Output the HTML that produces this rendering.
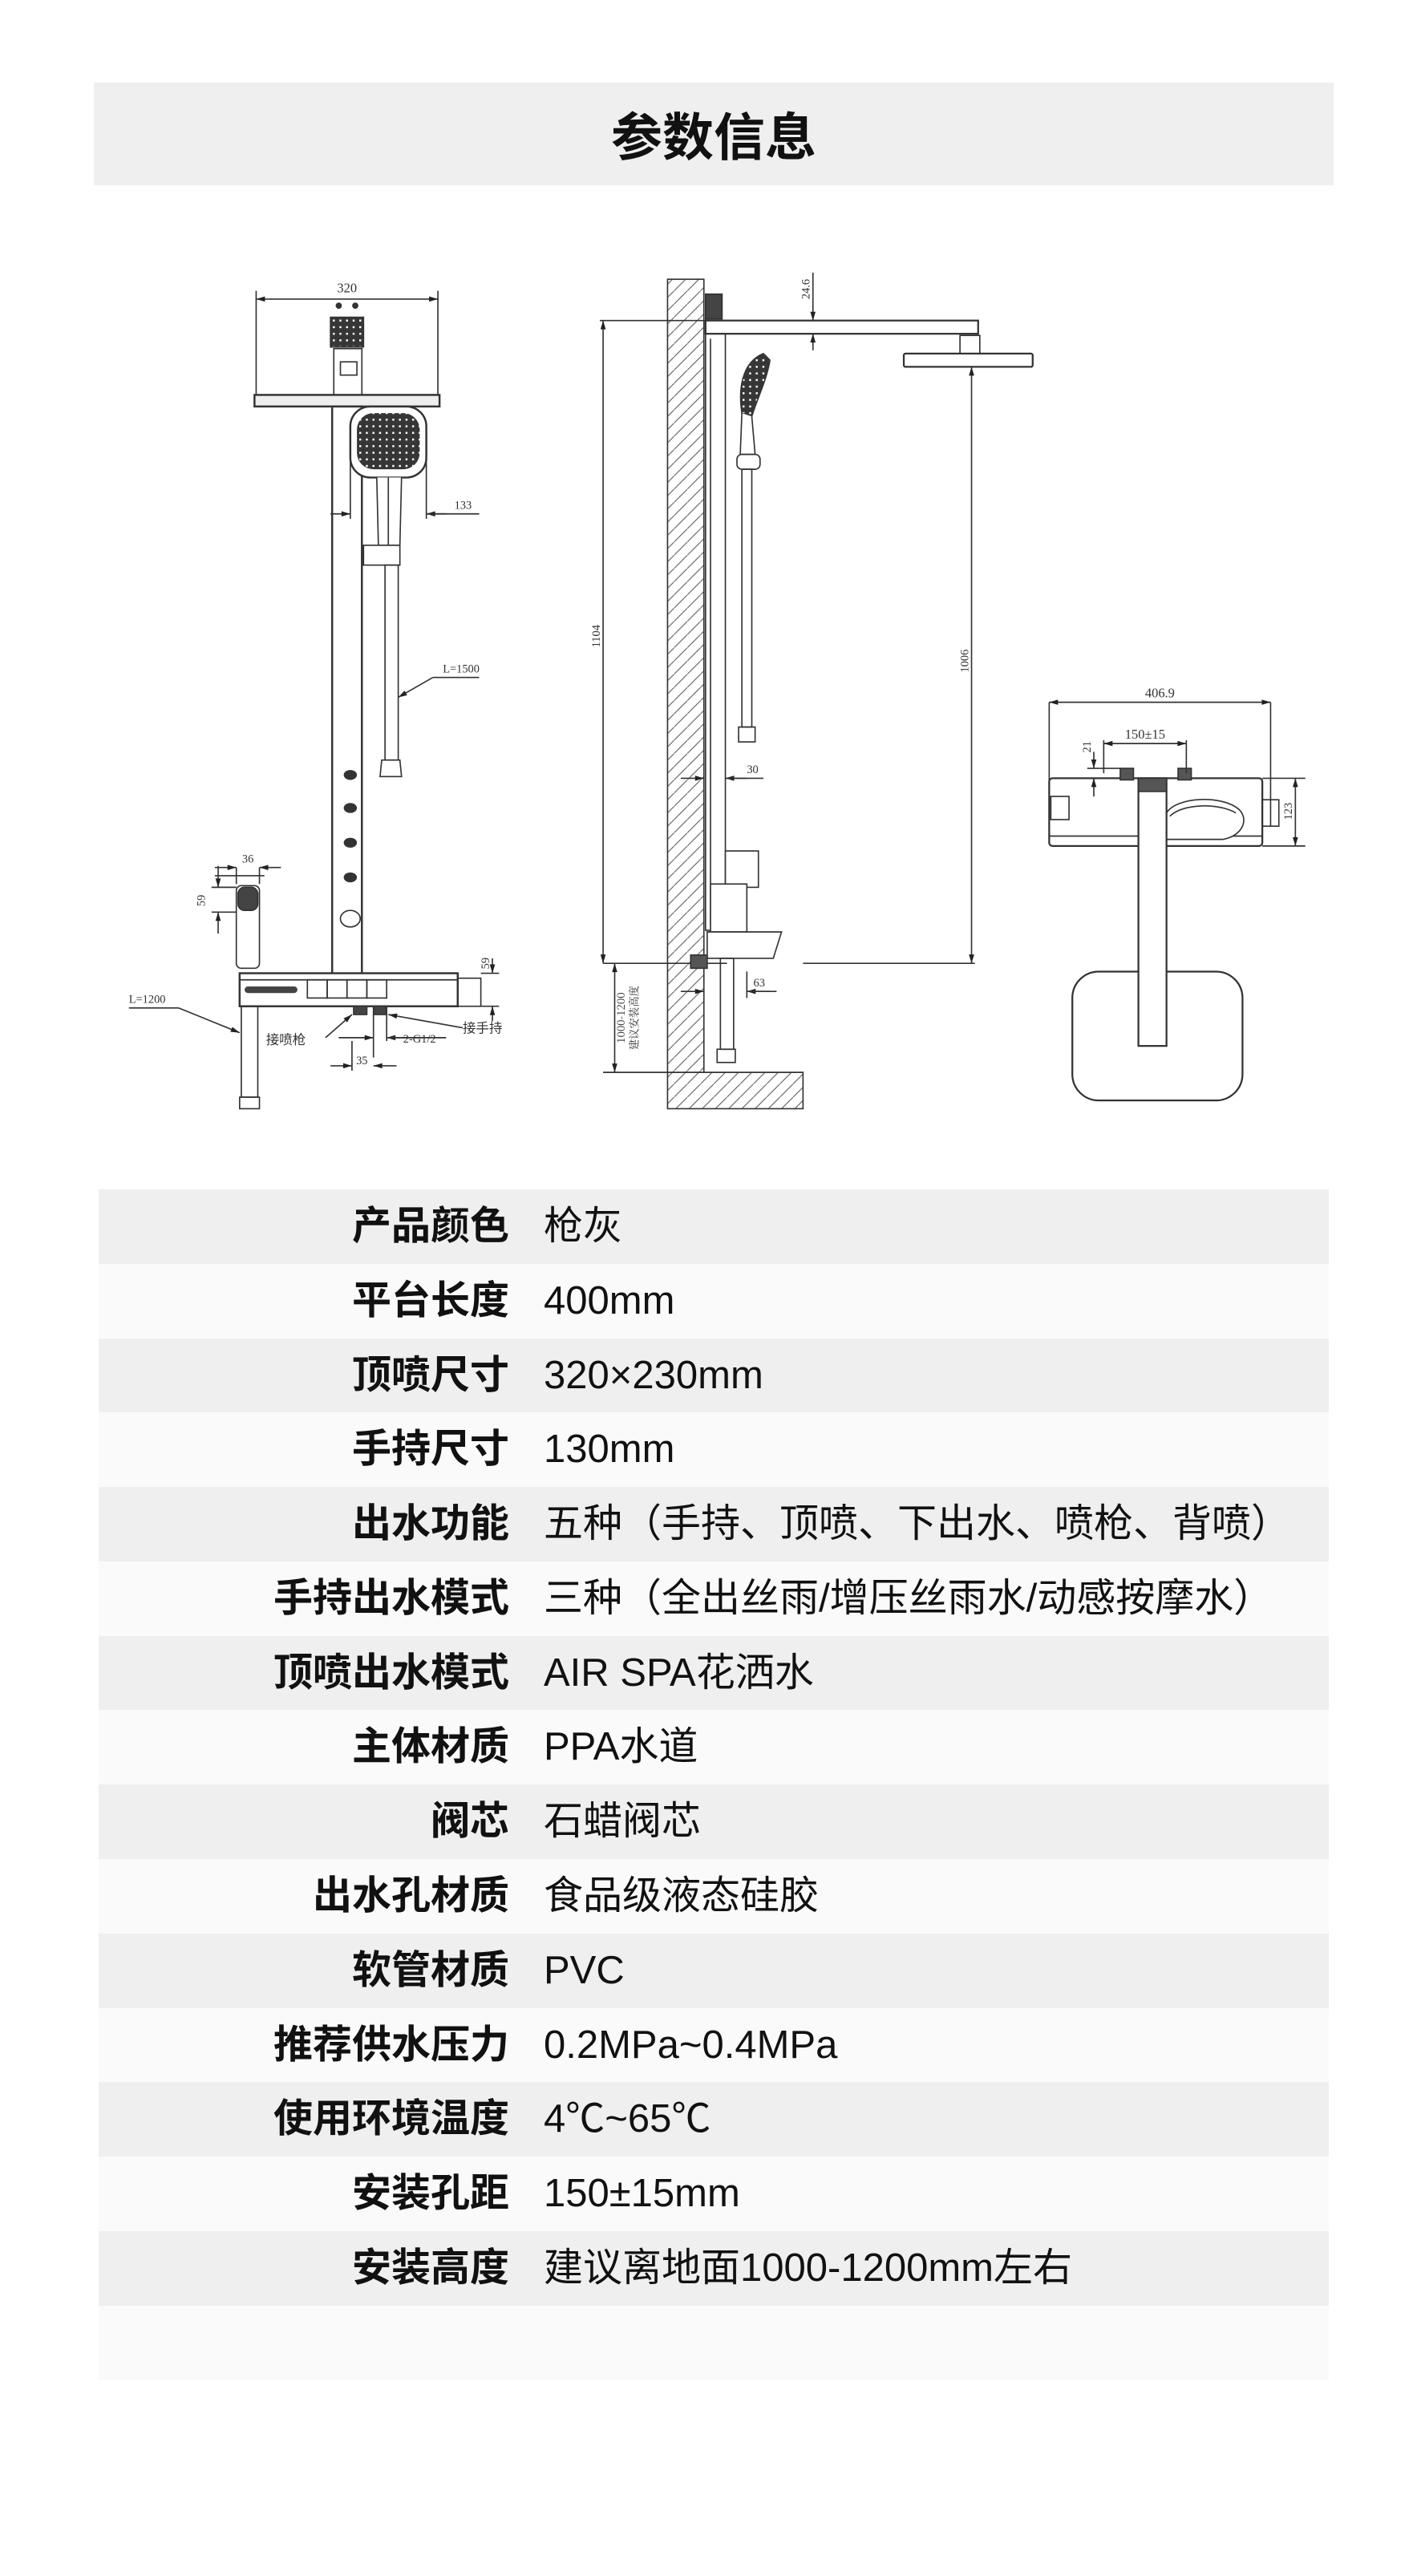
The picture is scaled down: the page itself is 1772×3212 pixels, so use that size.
<!DOCTYPE html>
<html><head><meta charset="utf-8">
<style>
*{margin:0;padding:0;box-sizing:border-box}
html,body{width:1772px;height:3212px;background:#fff;overflow:hidden;font-family:"Liberation Sans","Noto Sans CJK SC",sans-serif;color:#111}
.hdr{position:absolute;left:117px;top:103px;width:1546px;height:128px;background:#efefef;display:flex;align-items:center;justify-content:center;font-size:64px;font-weight:bold}
.row{position:absolute;left:123px;width:1534px;height:93px}
.row .l{position:absolute;right:1022px;top:0;height:93px;line-height:93px;font-size:49px;font-weight:bold;white-space:nowrap}
.row .v{position:absolute;left:555px;top:0;height:93px;line-height:93px;font-size:49px;white-space:nowrap}
svg{position:absolute;left:0;top:0}
</style></head><body>
<div class="hdr">参数信息</div>

<svg width="1772" height="3212" viewBox="0 0 860 1559" fill="none" stroke="#333" stroke-width="0.8" font-family="Liberation Serif, Noto Serif CJK SC, serif">
<defs>
<marker id="a" viewBox="0 0 10 6" refX="10" refY="3" markerWidth="7" markerHeight="4" orient="auto-start-reverse"><path d="M0 0L10 3L0 6z" fill="#222" stroke="none"/></marker>
<pattern id="h" width="8" height="8" patternUnits="userSpaceOnUse"><path d="M0 8L8 0" stroke="#555" stroke-width="0.5"/></pattern>
<pattern id="d" width="4" height="4" patternUnits="userSpaceOnUse"><rect width="4" height="4" fill="#444"/><rect x="1" y="1" width="2" height="2" fill="#fff"/></pattern>
</defs>
<!-- LEFT DRAWING -->
<line x1="155" y1="181" x2="265" y2="181" marker-start="url(#a)" marker-end="url(#a)"/>
<line x1="155" y1="176" x2="155" y2="240"/><line x1="265" y1="176" x2="265" y2="240"/>
<text x="210" y="177" font-size="8" fill="#333" stroke="none" text-anchor="middle">320</text>
<circle cx="205" cy="185" r="1.5" fill="#333"/><circle cx="215" cy="185" r="1.5" fill="#333"/>
<rect x="200" y="192" width="20" height="18" fill="url(#d)"/>
<rect x="202" y="211" width="17" height="28"/>
<rect x="206" y="219" width="10" height="8"/>
<rect x="154" y="239" width="112" height="7" fill="#eee" stroke-width="1.2"/>
<rect x="201" y="246" width="18" height="344" stroke-width="1.2"/>
<rect x="212" y="246" width="46" height="43" rx="12" fill="#fff" stroke-width="1.2"/>
<rect x="216" y="250" width="38" height="34" rx="10" fill="url(#d)" stroke="none"/>
<path d="M228 289 L229 330 L242 330 L243 289" fill="#fff"/>
<line x1="235" y1="289" x2="235" y2="330"/>
<rect x="220" y="330" width="22" height="12" fill="#fff"/>
<line x1="200" y1="311" x2="212" y2="311" marker-end="url(#a)"/>
<line x1="270" y1="311" x2="258" y2="311" marker-end="url(#a)"/>
<line x1="258" y1="311" x2="290" y2="311"/>
<line x1="212" y1="270" x2="212" y2="314"/><line x1="258" y1="270" x2="258" y2="314"/>
<text x="275" y="308" font-size="7" fill="#333" stroke="none">133</text>
<rect x="233" y="342" width="8" height="118"/>
<path d="M231 460 h11 l1 10 h-13 z"/>
<line x1="290" y1="410" x2="262" y2="410"/><line x1="262" y1="410" x2="241" y2="422" marker-end="url(#a)"/>
<text x="268" y="407" font-size="7" fill="#333" stroke="none">L=1500</text>
<g fill="#333" stroke="none"><ellipse cx="212" cy="469" rx="4" ry="3"/><ellipse cx="212" cy="489" rx="4" ry="3"/><ellipse cx="212" cy="510" rx="4" ry="3"/><ellipse cx="212" cy="531" rx="4" ry="3"/></g>
<ellipse cx="212" cy="556" rx="6" ry="5"/>
<rect x="145" y="589" width="132" height="20" fill="#fff" stroke-width="1.2"/>
<line x1="145" y1="593" x2="277" y2="593"/>
<rect x="148" y="597" width="32" height="4" rx="2" fill="#444" stroke="none"/>
<rect x="186" y="593" width="12" height="11"/><rect x="198" y="593" width="12" height="11"/><rect x="210" y="593" width="12" height="11"/><rect x="222" y="593" width="12" height="11"/>
<rect x="277" y="592" width="14" height="17"/>
<rect x="143" y="536" width="14" height="50" rx="3" fill="#fff"/>
<rect x="144" y="537" width="12" height="14" rx="4" fill="#444"/>
<rect x="146" y="609" width="10" height="55"/>
<path d="M145 664 h12 v7 h-12 z"/>
<line x1="130" y1="530" x2="160" y2="530"/>
<line x1="143" y1="525" x2="143" y2="535"/><line x1="157" y1="525" x2="157" y2="535"/>
<line x1="130" y1="525" x2="143" y2="525" marker-end="url(#a)"/><line x1="170" y1="525" x2="157" y2="525" marker-end="url(#a)"/>
<text x="150" y="522" font-size="7" fill="#333" stroke="none" text-anchor="middle">36</text>
<line x1="128" y1="537" x2="143" y2="537"/><line x1="128" y1="552" x2="143" y2="552"/>
<line x1="132" y1="524" x2="132" y2="537" marker-end="url(#a)"/><line x1="132" y1="565" x2="132" y2="552" marker-end="url(#a)"/>
<text x="124" y="545" font-size="7" fill="#333" stroke="none" text-anchor="middle" transform="rotate(-90 124 545)">59</text>
<line x1="291" y1="589" x2="302" y2="589"/><line x1="291" y1="609" x2="302" y2="609"/>
<line x1="298" y1="580" x2="298" y2="589" marker-end="url(#a)"/><line x1="298" y1="618" x2="298" y2="609" marker-end="url(#a)"/>
<text x="296" y="583" font-size="7" fill="#333" stroke="none" text-anchor="middle" transform="rotate(-90 296 583)">59</text>
<line x1="78" y1="610" x2="108" y2="610"/><line x1="108" y1="610" x2="145" y2="625" marker-end="url(#a)"/>
<text x="78" y="607" font-size="7" fill="#333" stroke="none">L=1200</text>
<rect x="214" y="609" width="8" height="5" fill="#444"/><rect x="226" y="609" width="8" height="5" fill="#444"/>
<line x1="197" y1="628" x2="213" y2="614" marker-end="url(#a)"/>
<text x="161" y="632" font-size="8" fill="#333" stroke="none" font-family="Noto Sans CJK SC,sans-serif">接喷枪</text>
<line x1="280" y1="622" x2="235" y2="614" marker-end="url(#a)"/>
<text x="280" y="625" font-size="8" fill="#333" stroke="none" font-family="Noto Sans CJK SC,sans-serif">接手持</text>
<line x1="226" y1="614" x2="226" y2="640"/><line x1="234" y1="614" x2="234" y2="630"/>
<line x1="205" y1="628" x2="226" y2="628" marker-end="url(#a)"/><line x1="255" y1="628" x2="234" y2="628" marker-end="url(#a)"/><line x1="234" y1="628" x2="270" y2="628"/>
<text x="244" y="631" font-size="7" fill="#333" stroke="none">2-G1/2</text>
<line x1="213" y1="630" x2="213" y2="648"/>
<line x1="200" y1="645" x2="213" y2="645" marker-end="url(#a)"/><line x1="240" y1="645" x2="226" y2="645" marker-end="url(#a)"/>
<text x="219" y="644" font-size="7" fill="#333" stroke="none" text-anchor="middle">35</text>

<!-- MIDDLE DRAWING -->
<path d="M404 169 H426 V649 H486 V671 H404 Z" fill="url(#h)"/>
<rect x="427" y="178" width="10" height="15" fill="#444"/>
<rect x="427" y="194" width="165" height="8" stroke-width="1.1"/>
<rect x="581" y="203" width="12" height="11"/>
<rect x="547" y="214" width="78" height="8" rx="1" stroke-width="1.1"/>
<rect x="427" y="202" width="12" height="361"/>
<line x1="430" y1="205" x2="430" y2="560"/>
<path d="M449 250 C446 230 452 218 462 214 L466 218 C464 230 458 242 455 252 Z" fill="url(#d)"/>
<path d="M449 250 L448 275 L457 275 L455 252" fill="#fff"/>
<rect x="446" y="275" width="14" height="9" rx="3"/>
<rect x="449" y="284" width="6" height="156"/>
<rect x="447" y="440" width="10" height="9"/>
<line x1="363" y1="194" x2="428" y2="194"/>
<line x1="365" y1="194" x2="365" y2="583" marker-start="url(#a)" marker-end="url(#a)"/>
<text x="363" y="385" font-size="7" fill="#333" stroke="none" text-anchor="middle" transform="rotate(-90 363 385)">1104</text>
<line x1="492" y1="165" x2="492" y2="194" marker-end="url(#a)"/><line x1="492" y1="212" x2="492" y2="202" marker-end="url(#a)"/>
<text x="490" y="175" font-size="7" fill="#333" stroke="none" text-anchor="middle" transform="rotate(-90 490 175)">24.6</text>
<line x1="588" y1="222" x2="588" y2="583" marker-start="url(#a)" marker-end="url(#a)"/>
<text x="586" y="400" font-size="7" fill="#333" stroke="none" text-anchor="middle" transform="rotate(-90 586 400)">1006</text>
<line x1="486" y1="583" x2="590" y2="583"/>
<line x1="365" y1="583" x2="440" y2="583"/>
<line x1="412" y1="471" x2="426" y2="471" marker-end="url(#a)"/><line x1="452" y1="471" x2="439" y2="471" marker-end="url(#a)"/><line x1="439" y1="471" x2="462" y2="471"/>
<text x="452" y="468" font-size="7" fill="#333" stroke="none">30</text>
<rect x="439" y="515" width="20" height="22" fill="#fff"/>
<rect x="430" y="535" width="22" height="29" fill="#fff"/>
<path d="M428 564 H473 L468 580 H428 Z" fill="#fff"/>
<rect x="418" y="578" width="10" height="8" fill="#555"/>
<rect x="436" y="580" width="8" height="55"/>
<rect x="434" y="635" width="11" height="8"/>
<line x1="372" y1="583" x2="372" y2="649" marker-start="url(#a)" marker-end="url(#a)"/>
<line x1="365" y1="649" x2="426" y2="649"/>
<text x="378" y="616" font-size="6.5" fill="#333" stroke="none" text-anchor="middle" transform="rotate(-90 378 616)" font-family="Noto Serif CJK SC,serif">1000-1200</text>
<text x="386" y="616" font-size="6.5" fill="#333" stroke="none" text-anchor="middle" transform="rotate(-90 386 616)" font-family="Noto Serif CJK SC,serif">建议安装高度</text>
<line x1="412" y1="600" x2="426" y2="600" marker-end="url(#a)"/><line x1="466" y1="600" x2="452" y2="600" marker-end="url(#a)"/><line x1="452" y1="600" x2="470" y2="600"/>
<line x1="452" y1="588" x2="452" y2="604"/>
<text x="456" y="597" font-size="7" fill="#333" stroke="none">63</text>

<!-- RIGHT DRAWING -->
<line x1="635" y1="425" x2="635" y2="475"/><line x1="769" y1="425" x2="769" y2="500"/>
<line x1="635" y1="425" x2="769" y2="425" marker-start="url(#a)" marker-end="url(#a)"/>
<text x="702" y="422" font-size="8" fill="#333" stroke="none" text-anchor="middle">406.9</text>
<rect x="635" y="471" width="129" height="41" rx="2" stroke-width="1.1"/>
<line x1="635" y1="506" x2="764" y2="506"/>
<rect x="636" y="482" width="11" height="14" fill="#fff"/>
<rect x="764" y="484" width="10" height="16"/>
<rect x="678" y="465" width="8" height="7" fill="#555"/><rect x="713" y="465" width="8" height="7" fill="#555"/>
<line x1="668" y1="450" x2="718" y2="450" marker-start="url(#a)" marker-end="url(#a)"/>
<line x1="668" y1="448" x2="668" y2="468"/><line x1="718" y1="448" x2="718" y2="468"/>
<text x="693" y="447" font-size="8" fill="#333" stroke="none" text-anchor="middle">150±15</text>
<line x1="662" y1="455" x2="662" y2="465" marker-end="url(#a)"/><line x1="662" y1="482" x2="662" y2="471" marker-end="url(#a)"/>
<line x1="658" y1="465" x2="678" y2="465"/>
<text x="660" y="452" font-size="7" fill="#333" stroke="none" text-anchor="middle" transform="rotate(-90 660 452)">21</text>
<path d="M706 492 C712 482 740 481 750 490 C756 496 752 506 740 508 L706 508 Z" fill="#fff"/>
<path d="M708 494 C716 486 738 486 748 492" />
<line x1="764" y1="471" x2="790" y2="471"/><line x1="764" y1="512" x2="790" y2="512"/>
<line x1="784" y1="471" x2="784" y2="512" marker-start="url(#a)" marker-end="url(#a)"/>
<text x="782" y="491" font-size="7" fill="#333" stroke="none" text-anchor="middle" transform="rotate(-90 782 491)">123</text>
<rect x="649" y="588" width="103" height="78" rx="16" fill="#fff" stroke-width="1.1"/>
<rect x="689" y="471" width="17" height="162" fill="#fff" stroke-width="1.1"/>
<rect x="689" y="471" width="17" height="8" fill="#555"/>
</svg>

<div class="row" style="top:1483px;background:#efefef"><span class="l">产品颜色</span><span class="v">枪灰</span></div>
<div class="row" style="top:1576px;background:#fafafa"><span class="l">平台长度</span><span class="v">400mm</span></div>
<div class="row" style="top:1669px;background:#efefef"><span class="l">顶喷尺寸</span><span class="v">320×230mm</span></div>
<div class="row" style="top:1761px;background:#fafafa"><span class="l">手持尺寸</span><span class="v">130mm</span></div>
<div class="row" style="top:1854px;background:#efefef"><span class="l">出水功能</span><span class="v">五种（手持、顶喷、下出水、喷枪、背喷）</span></div>
<div class="row" style="top:1947px;background:#fafafa"><span class="l">手持出水模式</span><span class="v">三种（全出丝雨/增压丝雨水/动感按摩水）</span></div>
<div class="row" style="top:2040px;background:#efefef"><span class="l">顶喷出水模式</span><span class="v">AIR SPA花洒水</span></div>
<div class="row" style="top:2132px;background:#fafafa"><span class="l">主体材质</span><span class="v">PPA水道</span></div>
<div class="row" style="top:2225px;background:#efefef"><span class="l">阀芯</span><span class="v">石蜡阀芯</span></div>
<div class="row" style="top:2318px;background:#fafafa"><span class="l">出水孔材质</span><span class="v">食品级液态硅胶</span></div>
<div class="row" style="top:2411px;background:#efefef"><span class="l">软管材质</span><span class="v">PVC</span></div>
<div class="row" style="top:2504px;background:#fafafa"><span class="l">推荐供水压力</span><span class="v">0.2MPa~0.4MPa</span></div>
<div class="row" style="top:2596px;background:#efefef"><span class="l">使用环境温度</span><span class="v">4℃~65℃</span></div>
<div class="row" style="top:2689px;background:#fafafa"><span class="l">安装孔距</span><span class="v">150±15mm</span></div>
<div class="row" style="top:2782px;background:#efefef"><span class="l">安装高度</span><span class="v">建议离地面1000-1200mm左右</span></div>
<div class="row" style="top:2875px;background:#fafafa"></div>
</body></html>
